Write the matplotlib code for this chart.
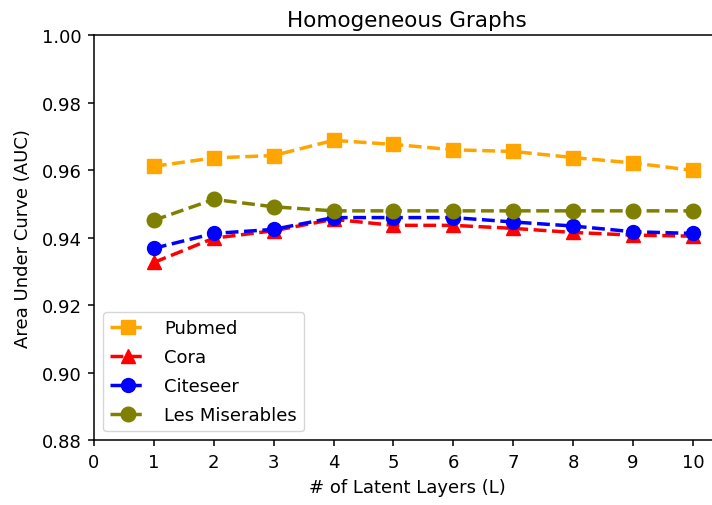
import matplotlib
matplotlib.use("Agg")
import matplotlib.pyplot as plt

# number of latent layers
layers = [1, 2, 3, 4, 5, 6, 7, 8, 9, 10]

# AUC per dataset
pubmed = [0.9612, 0.9637, 0.9644, 0.9689, 0.9677, 0.9661, 0.9656, 0.9638, 0.9622, 0.9600]
cora = [0.9327, 0.9399, 0.9421, 0.9455, 0.9437, 0.9437, 0.9428, 0.9416, 0.9408, 0.9405]
citeseer = [0.9369, 0.9413, 0.9425, 0.9460, 0.9460, 0.9460, 0.9447, 0.9435, 0.9418, 0.9413]
les_mis = [0.9452, 0.9514, 0.9492, 0.9480, 0.9480, 0.9480, 0.9480, 0.9480, 0.9480, 0.9480]

fig = plt.figure(figsize=(7.12, 5.06), dpi=100)
ax = fig.add_axes([0.132, 0.128, 0.879, 0.800])

ax.plot(layers, pubmed, ls='--', lw=2.5, marker='s', ms=10, color='orange', label='Pubmed')
ax.plot(layers, cora, ls='--', lw=2.5, marker='^', ms=10, color='red', label='Cora')
ax.plot(layers, citeseer, ls='--', lw=2.5, marker='o', ms=10, color='blue', label='Citeseer')
ax.plot(layers, les_mis, ls='--', lw=2.5, marker='o', ms=10.5, color='olive', label='Les Miserables')

ax.set_xlim(0, 10.45)
ax.set_ylim(0.88, 1.00)
ax.set_xticks(range(0, 11))
ax.set_yticks([0.88, 0.90, 0.92, 0.94, 0.96, 0.98, 1.00])
ax.tick_params(labelsize=13, length=4.5, width=1.1, pad=4.5)
for sp in ax.spines.values():
    sp.set_linewidth(1.1)

ax.set_xlabel('# of Latent Layers (L)', fontsize=13, labelpad=5)
ax.set_ylabel('Area Under Curve (AUC)', fontsize=13, labelpad=7)
ax.set_title('Homogeneous Graphs', fontsize=15.5, pad=7)
ax.legend(loc='lower left', fontsize=13, labelspacing=0.6, handletextpad=1.0)

fig.savefig('out.png', dpi=100)
